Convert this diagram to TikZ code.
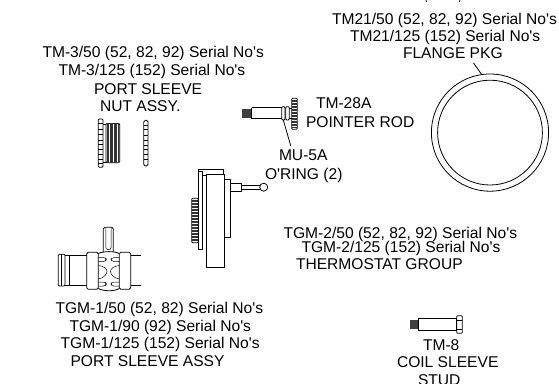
\documentclass[tikz,border=0pt]{standalone}
\usepackage{fontspec}
\newfontfamily\lf{Liberation Sans}
\tikzset{
  x=1pt,y=-1pt,
  lbl/.style={anchor=base west,inner sep=0pt,outer sep=0pt,font=\lf\fontsize{15.6}{17}\selectfont},
  ln/.style={line width=0.8pt,black,line join=round},
  thin ln/.style={line width=0.5pt,black},
  dense/.style={line width=0.5pt,black!80}
}
\begin{document}
\begin{tikzpicture}
\useasboundingbox (0,0) rectangle (559,383);
\clip (0,0) rectangle (559,383);
% labels
\node[lbl] (f1) at (332,24.5) {TM21/50 (52, 82, 92) Serial No's};
\node[lbl] (f2) at (350,41.5) {TM21/125 (152) Serial No's};
\node[lbl] (f3) at (403,58) {FLANGE PKG};
\node[lbl] (n1) at (42.5,57.3) {TM-3/50 (52, 82, 92) Serial No's};
\node[lbl] (n2) at (58.5,75.5) {TM-3/125 (152) Serial No's};
\node[lbl] (n3) at (94,94) {PORT SLEEVE};
\node[lbl] (n4) at (100,111) {NUT ASSY.};
\node[lbl] (p1) at (316,108) {TM-28A};
\node[lbl] (p2) at (306,127) {POINTER ROD};
\node[lbl] (m1) at (279,160.5) {MU-5A};
\node[lbl] (m2) at (265,179) {O'RING (2)};
\node[lbl] (g1) at (283.5,238) {TGM-2/50 (52, 82, 92) Serial No's};
\node[lbl] (g2) at (301.5,252.7) {TGM-2/125 (152) Serial No's};
\node[lbl] (g3) at (296,269) {THERMOSTAT GROUP};
\node[lbl] (a1) at (55.5,313.3) {TGM-1/50 (52, 82) Serial No's};
\node[lbl] (a2) at (69.5,331) {TGM-1/90 (92) Serial No's};
\node[lbl] (a3) at (60.7,348.3) {TGM-1/125 (152) Serial No's};
\node[lbl] (a4) at (70.5,366) {PORT SLEEVE ASSY};
\node[lbl] (s1) at (423,350.7) {TM-8};
\node[lbl] (s2) at (397,367) {COIL SLEEVE};
\node[lbl] (s3) at (418,385.5) {STUD};
% clipped descenders of a line above the picture
\draw[ln] (426,0) -- (426.6,2) (460,0) -- (459.4,2);
% flange ring
\draw[ln] (490,132.6) circle (58.6);
\draw[ln] (490,132.6) circle (52.4);
\coordinate (fa) at (473.5,63); \coordinate (fb) at (482,75);
\draw[ln] (fa) -- (fb);
% port sleeve nut
\draw[ln,rounded corners=1pt] (98.3,119) rectangle (103,167.3);
\foreach \y in {123.5,129,134,140,144.5,149,154,159,163}
  \draw[thin ln] (98.3,\y) -- (103,\y);
\draw[ln] (103,124) -- (106,124) (103,162.5) -- (106,162.5);
\draw[ln,rounded corners=1pt] (106,123.4) rectangle (119.7,162.7);
\foreach \x in {107.5,108.7,110,111.3,112.6,113.9,115.2,116.5,117.8}
  \draw[dense] (\x,123.4) -- (\x,162.7);
\draw[ln,rounded corners=1.5pt] (143.8,120.3) rectangle (148,166);
\foreach \y in {125,129,135,140,145,149,154,159}
  \draw[thin ln] (143.8,\y) -- (148,\y);
% port sleeve assy
\draw[ln,rounded corners=1pt] (58.3,254.3) rectangle (65,286);
\draw[thin ln] (61,254.3) -- (61,286);
\draw[ln] (65,255) -- (86.7,255) (65,285.7) -- (86.7,285.7) (69.5,255) -- (69.5,285.7);
\draw[ln] (130.7,255) -- (141,255) (130.7,285.7) -- (141,285.7);
\draw[ln,rounded corners=1.5pt] (86.7,252.3) rectangle (98.3,289.3);
\draw[ln,rounded corners=1.5pt] (119.3,252.3) rectangle (130.7,289.3);
\draw[ln] (98.3,253.5) .. controls (104,251) and (114,251) .. (119.3,253.5);
\draw[ln] (98.3,288.5) .. controls (104,291.5) and (114,291.5) .. (119.3,288.5);
\draw[ln,rounded corners=1.5pt] (103.3,252) -- (103.3,227.3) -- (113.3,227.3) -- (113.3,252);
\draw[thin ln,rounded corners=2pt] (105.8,228) -- (105.8,249.5) -- (111,249.5) -- (111,228);
\foreach \y in {257.5,282}{
  \draw[thin ln,rounded corners=1.5pt] (98.3,\y) -- (105,\y) -- (106.7,\y+2) -- (105,\y+4) -- (98.3,\y+4);
  \draw[thin ln,rounded corners=1.5pt] (119.3,\y) -- (112.5,\y) -- (110.7,\y+2) -- (112.5,\y+4) -- (119.3,\y+4);
}
\draw[thin ln] (98.3,265.5) .. controls (104,266) and (107,269) .. (107,271.5) .. controls (107,274) and (104,278) .. (98.3,279);
\draw[thin ln] (119.3,265.5) .. controls (113.5,266) and (110.5,269) .. (110.5,271.5) .. controls (110.5,274) and (113.5,278) .. (119.3,279);
% thermostat group
\draw[ln] (206,174) rectangle (224.3,267.3);
\draw[ln] (198.3,249) rectangle (202.3,171);
\draw[ln] (202.3,175.7) -- (206,175.7);
\draw[ln] (198.3,171) -- (198.3,169) -- (223.3,169) -- (223.3,174);
\draw[ln] (224.3,179.3) rectangle (230.7,237.7);
\draw[ln] (230.7,183.3) -- (241.7,183.3) -- (241.7,191) -- (230.7,191);
\draw[ln] (241.7,185) -- (260,185) (241.7,189.3) -- (260,189.3);
\draw[ln] (263.7,187.2) circle (4);
\draw[ln,rounded corners=1pt] (191.7,198.3) rectangle (198.3,242.7);
\foreach \y in {200,201.5,...,241.5}
  \draw[dense] (191.7,\y) -- (198.3,\y);
% pointer rod
\fill[black!75] (241.7,108.5) rectangle (251.7,118.3);
\draw[ln] (251.7,107.7) -- (281.7,107.7) (251.7,118.7) -- (281.7,118.7) (251.7,107.7) -- (251.7,118.7);
\draw[ln,rounded corners=1pt] (281.7,106.7) rectangle (285,120);
\draw[ln,rounded corners=1pt] (285.7,106.7) rectangle (289.3,120);
\draw[ln] (289.3,108) -- (291.7,108) (289.3,118.5) -- (291.7,118.5);
\draw[ln,rounded corners=1pt] (291.7,98.3) rectangle (297.3,129.3);
\foreach \y in {100,101.5,...,128}
  \draw[dense] (291.7,\y) -- (297.3,\y);
\coordinate (ma) at (283.3,120); \coordinate (mb) at (290.7,145.7);
\draw[ln] (ma) -- (mb);
% stud
\fill[black!75] (410,320) rectangle (418.3,329.3);
\draw[ln] (418.3,318.3) rectangle (456.7,330.7);
\draw[ln,rounded corners=1pt] (456.7,315.7) rectangle (462.3,333.3);
\draw[thin ln] (456.7,320) -- (462.3,320) (456.7,329) -- (462.3,329);
\end{tikzpicture}
\end{document}
